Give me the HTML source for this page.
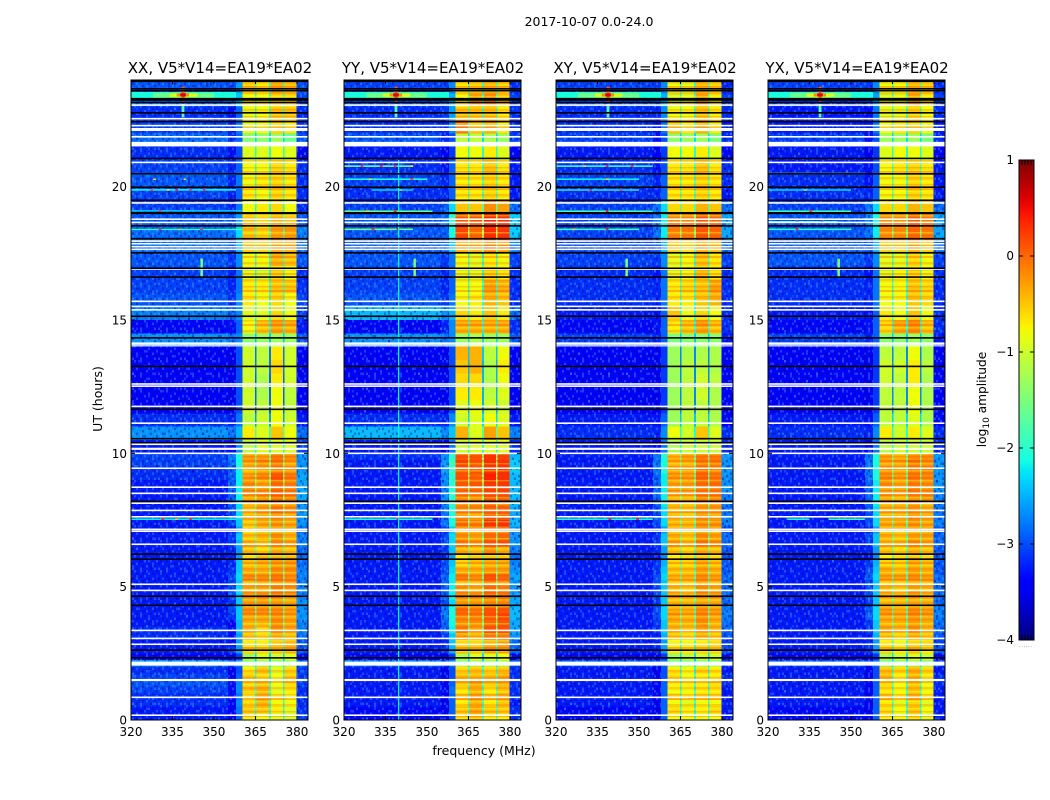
<!DOCTYPE html>
<html lang="en">
<head>
<meta charset="utf-8">
<title>2017-10-07 dynamic spectra</title>
<style>
html,body{margin:0;padding:0;background:#fff;width:1050px;height:800px;overflow:hidden}
svg{display:block}
text{font-family:"DejaVu Sans","Liberation Sans",sans-serif;fill:#000}
</style>
</head>
<body>
<svg id="figure" xmlns="http://www.w3.org/2000/svg" width="1050" height="800" viewBox="0 0 1050 800">
  <defs>
    <pattern id="noise" width="26" height="15" patternUnits="userSpaceOnUse">
      <g fill="#00008c" fill-opacity=".38">
        <rect x="0" y="0" width="2" height="2.5"/><rect x="6" y="2.5" width="2" height="2.5"/><rect x="14" y="0" width="2" height="2.5"/>
        <rect x="22" y="2.5" width="2" height="2.5"/><rect x="2" y="7.5" width="2" height="2.5"/><rect x="10" y="5" width="2" height="2.5"/>
        <rect x="18" y="7.5" width="2" height="2.5"/><rect x="24" y="10" width="2" height="2.5"/><rect x="6" y="12.5" width="2" height="2.5"/>
        <rect x="12" y="10" width="2" height="2.5"/><rect x="20" y="12.5" width="2" height="2.5"/>
      </g>
      <g fill="#4aa8ff" fill-opacity=".38">
        <rect x="4" y="0" width="2" height="2.5"/><rect x="10" y="0" width="2" height="2.5"/><rect x="18" y="2.5" width="2" height="2.5"/>
        <rect x="0" y="5" width="2" height="2.5"/><rect x="14" y="5" width="2" height="2.5"/><rect x="22" y="7.5" width="2" height="2.5"/>
        <rect x="6" y="7.5" width="2" height="2.5"/><rect x="2" y="12.5" width="2" height="2.5"/><rect x="16" y="10" width="2" height="2.5"/>
        <rect x="10" y="12.5" width="2" height="2.5"/><rect x="24" y="12.5" width="2" height="2.5"/>
      </g>
    </pattern>
    <pattern id="noise-wide" width="38" height="27.5" patternUnits="userSpaceOnUse">
      <g fill="#000090" fill-opacity=".3">
        <rect x="2" y="2.5" width="2" height="2.5"/><rect x="16" y="0" width="2" height="2.5"/><rect x="30" y="5" width="2" height="2.5"/>
        <rect x="8" y="10" width="2" height="2.5"/><rect x="24" y="12.5" width="2" height="2.5"/><rect x="36" y="15" width="2" height="2.5"/>
        <rect x="12" y="20" width="2" height="2.5"/><rect x="4" y="25" width="2" height="2.5"/><rect x="28" y="22.5" width="2" height="2.5"/>
      </g>
      <g fill="#3fa0ff" fill-opacity=".32">
        <rect x="10" y="5" width="2" height="2.5"/><rect x="24" y="2.5" width="2" height="2.5"/><rect x="34" y="10" width="2" height="2.5"/>
        <rect x="0" y="15" width="2" height="2.5"/><rect x="18" y="15" width="2" height="2.5"/><rect x="32" y="20" width="2" height="2.5"/>
        <rect x="8" y="22.5" width="2" height="2.5"/><rect x="22" y="25" width="2" height="2.5"/>
      </g>
    </pattern>
    <pattern id="band-stripes" width="12" height="17" patternUnits="userSpaceOnUse">
      <rect x="0" y="1" width="12" height="2" fill="#ff2a00" fill-opacity=".3"/>
      <rect x="0" y="4" width="12" height="1.5" fill="#ffff30" fill-opacity=".35"/>
      <rect x="0" y="7" width="12" height="2.5" fill="#ff5000" fill-opacity=".25"/>
      <rect x="0" y="11" width="12" height="1.5" fill="#ffff30" fill-opacity=".4"/>
      <rect x="0" y="14" width="12" height="1.5" fill="#ff2a00" fill-opacity=".22"/>
    </pattern>
    <linearGradient id="jet-gradient" x1="0" y1="1" x2="0" y2="0"></linearGradient>
  </defs>
  <text x="589" y="26" text-anchor="middle" font-size="12.5">2017-10-07 0.0-24.0</text>
  <text x="220" y="73" text-anchor="middle" font-size="15">XX, V5*V14=EA19*EA02</text>
  <text x="433" y="73" text-anchor="middle" font-size="15">YY, V5*V14=EA19*EA02</text>
  <text x="645" y="73" text-anchor="middle" font-size="15">XY, V5*V14=EA19*EA02</text>
  <text x="857" y="73" text-anchor="middle" font-size="15">YX, V5*V14=EA19*EA02</text>
  <text x="484" y="755" text-anchor="middle" font-size="12.5">frequency (MHz)</text>
  <text transform="translate(102 399) rotate(-90)" text-anchor="middle" font-size="12.5">UT (hours)</text>
  <text transform="translate(986 399.5) rotate(-90)" text-anchor="middle" font-size="12.2">log<tspan font-size="9" dy="3">10</tspan><tspan dy="-3"> amplitude</tspan></text>
  <text x="1026" y="647" text-anchor="middle" font-size="4" fill="#555" letter-spacing="1">......</text>
  <g id="panels"></g>
  <g id="colorbar"></g>
</svg>
<script>
// ---- chart data -------------------------------------------------------
const panelNames = ['xx', 'yy', 'xy', 'yx'];
const xTickLabels = [320, 335, 350, 365, 380];
const yTickLabels = [0, 5, 10, 15, 20];
const colorbarTicks = [1, 0, -1, -2, -3, -4];

// lower edge of each time row (hours), closing edge last
const rowHours = [0,.25,.5,.75,1,1.25,1.5,1.75,2,2.25,2.5,2.75,3,3.25,3.5,3.75,4,4.25,4.5,4.75,5,5.25,5.5,5.75,6,6.25,6.5,6.75,7,7.25,7.5,7.75,8,8.25,8.5,8.75,9,9.25,9.5,9.75,10,10.5,11,11.5,12,12.5,13,13.5,14,14.5,15,15.5,16,16.5,17,17.5,18,18.5,19,19.5,20,20.5,21,21.5,22,22.5,23,23.5,24];

// frequency channel groups (MHz)
const freqEdges = [320,355,358,360.3,364.8,365.4,369.9,370.6,375,375.5,379.8,384];
// which entry of a row feeds each channel group
// row = [background, ramp1, ramp2, band1, band2, band3, band4, gap, high]
const channelSource = [0,1,2,3,7,4,7,5,7,6,8];
// level correction per row entry, matching the eye-read rows to the picture
const entryOffset = [-.25,-.5,-.4,0,0,0,0,-.3,-.35];

// log10 amplitude per time row
const xxRows = [
[-3,-2.9,-2.5,-.7,-.8,-.9,-1,-1.7,-2.7],
[-3,-2.9,-2.4,-.5,-.5,-.7,-.9,-1.8,-2.8],
[-2.9,-2.9,-2.3,-.6,-.4,-.8,-.8,-1.7,-2.8],
[-2.9,-2.8,-2.4,-.7,-.4,-.7,-.8,-1.7,-2.8],
[-2.8,-2.8,-2.3,-.5,-.4,-.9,-.7,-1.6,-2.8],
[-2.7,-2.8,-2.3,-.6,-.5,-.8,-.6,-1.7,-2.7],
[-2.8,-2.9,-2.5,-.5,-.6,-.8,-.5,-1.8,-2.7],
[-2.9,-2.9,-2.6,-.7,-.5,-.9,-.6,-1.8,-2.7],
[-2.4,-2.4,-2.2,-1.4,-1.3,-1.3,-1.3,-2,-2.5],
[-3.1,-3,-2.7,-1.3,-.9,-1,-.9,-2,-3],
[-3,-2.6,-2.2,-.6,-.6,-.5,-.4,-1.6,-2.6],
[-3,-2.8,-2.2,-.7,-.7,-.5,-.4,-1.6,-2.6],
[-2.9,-2.8,-2.2,-.5,-.6,-.4,-.5,-1.5,-2.5],
[-2.9,-2.8,-2.1,-.4,-.6,-.2,-.3,-1.4,-2.4],
[-3,-2.9,-2.1,-.4,-.4,-.2,-.3,-1.3,-2.4],
[-3,-2.6,-2,-.3,-.3,-.2,-.3,-1.3,-2.3],
[-3,-2.5,-2,-.2,-.2,-.2,-.3,-1.3,-2.3],
[-3,-2.6,-2,-.3,-.3,-.3,-.4,-1.4,-2.3],
[-3,-2.5,-2,-.3,-.2,-.2,-.3,-1.3,-2.4],
[-3,-2.5,-1.9,-.3,-.3,-.1,-.2,-1.3,-2.4],
[-3,-2.5,-2,-.4,-.3,-.2,-.2,-1.4,-2.4],
[-3,-2.5,-1.9,-.2,-.2,-.1,-.2,-1.2,-2.4],
[-3,-2.6,-2,-.4,-.4,-.2,-.2,-1.3,-2.4],
[-3,-2.7,-2,-.5,-.4,-.3,-.3,-1.4,-2.5],
[-3,-2.7,-2.2,-.6,-.4,-.4,-.4,-1.4,-2.5],
[-3,-2.7,-2.2,-.5,-.6,-.4,-.5,-1.5,-2.5],
[-3,-2.6,-2.1,-.4,-.5,-.2,-.3,-1.4,-2.4],
[-3,-2.6,-2,-.5,-.4,-.2,-.4,-1.3,-2.4],
[-3,-2.7,-2.2,-.6,-.5,-.4,-.4,-1.5,-2.5],
[-3,-2.5,-2,-.5,-.3,-.2,-.3,-1.3,-2.3],
[-3,-2.5,-1.9,-.4,-.3,-.2,-.3,-1.3,-2.3],
[-3,-2.5,-1.9,-.5,-.3,-.1,-.2,-1.2,-2.3],
[-3,-2.4,-1.9,-.3,-.2,-.1,-.2,-1.2,-2.3],
[-3,-2.4,-1.8,-.3,-.2,0,-.1,-1.1,-2.2],
[-3,-2.4,-1.8,-.2,-.2,0,-.1,-1.1,-2.2],
[-3,-2.4,-1.8,-.2,-.3,0,-.1,-1.1,-2.2],
[-2.9,-2.4,-1.8,-.3,-.2,.1,-.1,-1.1,-2.2],
[-2.9,-2.4,-1.8,-.4,-.3,-.1,-.2,-1.2,-2.3],
[-2.8,-2.3,-1.7,-.3,-.2,-.1,-.3,-1.2,-2.3],
[-2.8,-2.3,-1.7,-.3,-.3,-.1,-.2,-1.2,-2.3],
[-3,-2.8,-2.3,-1.1,-.9,-.9,-.9,-1.8,-2.7],
[-2.4,-2.3,-2.1,-.7,-.9,-.5,-.8,-1.5,-2.5],
[-2.9,-2.7,-2.4,-1.1,-1,-.8,-1,-2.3,-2.9],
[-3.2,-3,-2.6,-1,-1.1,-.8,-1.1,-2.6,-3.1],
[-3.2,-3,-2.6,-1,-1.2,-.8,-1.1,-2.6,-3.1],
[-3.2,-3,-2.6,-1,-1.2,-.7,-1,-2.6,-3.1],
[-3.2,-3,-2.6,-1,-1.1,-.6,-1,-2.5,-3.1],
[-3.2,-3,-2.6,-1,-1.1,-.7,-1,-2.5,-3.1],
[-2.4,-2.3,-2.3,-1.4,-1.3,-1.3,-1.3,-2.1,-2.6],
[-3.1,-2.8,-2.5,-.8,-.5,-.3,-.4,-1.8,-2.9],
[-2.5,-2.4,-2.3,-.9,-.9,-.6,-.8,-1.8,-2.7],
[-2.7,-2.6,-2.3,-.7,-.8,-.6,-.8,-1.7,-2.7],
[-2.8,-2.7,-2.4,-.7,-.7,-.5,-.5,-1.7,-2.8],
[-2.8,-2.7,-2.4,-.9,-1,-.6,-.8,-1.7,-2.8],
[-2.7,-2.6,-2.3,-.8,-.8,-.4,-.5,-1.7,-2.6],
[-2.6,-2.5,-2.1,-.5,-.5,-.3,-.3,-1.5,-2.5],
[-2.6,-2.3,-1.9,-.5,-.6,-.3,-.3,-1.5,-2.4],
[-2.7,-2.5,-2.2,-.5,-.6,-.4,-.5,-1.5,-2.6],
[-2.8,-2.7,-2.4,-.8,-.7,-.6,-.8,-1.7,-2.8],
[-2.8,-2.7,-2.5,-.7,-.8,-.6,-.7,-1.6,-2.8],
[-2.7,-2.7,-2.4,-.8,-.7,-.6,-.7,-1.6,-2.8],
[-2.8,-2.7,-2.5,-.8,-.8,-.6,-.7,-1.6,-2.8],
[-2.9,-2.8,-2.6,-.9,-.9,-.8,-.9,-1.7,-3],
[-2.6,-2.6,-2.5,-1.4,-1.4,-1.3,-1.6,-2,-2.6],
[-2.8,-2.7,-2.4,-.9,-.8,-.6,-.7,-1.7,-2.8],
[-2.9,-2.8,-2.5,-.9,-.8,-.5,-.5,-1.6,-2.8],
[-2.6,-2.3,-2,-.8,-.8,-.6,-.6,-1.6,-2.7],
[-2.7,-2.5,-2.2,-.6,-.7,-.4,-.5,-1.6,-2.6]
];
const yyRows = [
[-3.1,-3,-2.6,-.6,-.5,-.7,-.7,-1.7,-2.8],
[-3.1,-3,-2.5,-.5,-.3,-.5,-.5,-1.8,-2.8],
[-3,-3,-2.5,-.7,-.4,-.7,-.5,-1.7,-2.9],
[-3,-3,-2.5,-.5,-.3,-.5,-.4,-1.7,-2.8],
[-3,-2.9,-2.4,-.7,-.4,-.7,-.5,-1.6,-2.8],
[-3,-2.9,-2.5,-.5,-.3,-.5,-.4,-1.7,-2.8],
[-3,-3,-2.6,-.4,-.4,-.4,-.3,-1.7,-2.8],
[-3,-3,-2.6,-.6,-.5,-.6,-.5,-1.7,-2.8],
[-2.5,-2.5,-2.3,-1.4,-1.3,-1.3,-1.2,-2,-2.6],
[-3.1,-3,-2.7,-1.2,-.9,-.9,-.8,-2,-3],
[-3,-2.6,-2.1,-.5,-.5,-.3,-.3,-1.5,-2.5],
[-3,-2.7,-2,-.6,-.6,-.4,-.3,-1.4,-2.5],
[-3,-2.6,-2,-.3,-.4,-.1,-.1,-1.3,-2.3],
[-3,-2.4,-1.8,-.1,-.3,.1,.1,-1.2,-2.2],
[-3,-2.4,-1.7,-.2,-.2,0,.1,-1.2,-2.2],
[-3,-2.3,-1.7,-.1,-.1,.1,.2,-1.1,-2.1],
[-3,-2.3,-1.7,0,-.1,.1,.1,-1.1,-2.1],
[-3,-2.5,-1.9,-.3,-.3,-.2,-.2,-1.2,-2.2],
[-3,-2.4,-1.8,-.2,-.2,-.1,-.1,-1.2,-2.2],
[-3,-2.4,-1.8,-.2,-.3,0,-.1,-1.2,-2.3],
[-3,-2.4,-1.8,-.4,-.4,-.1,-.2,-1.3,-2.3],
[-3,-2.4,-1.8,-.1,-.2,.1,0,-1.2,-2.2],
[-3,-2.5,-1.9,-.4,-.4,-.3,-.3,-1.3,-2.3],
[-3,-2.5,-2,-.6,-.5,-.4,-.4,-1.4,-2.4],
[-3,-2.7,-2.2,-.7,-.5,-.5,-.5,-1.5,-2.5],
[-3,-2.6,-2,-.4,-.5,-.2,-.4,-1.4,-2.4],
[-3,-2.5,-1.9,-.1,-.2,.1,.1,-1.2,-2.3],
[-3,-2.5,-1.9,-.2,-.3,0,0,-1.2,-2.3],
[-3,-2.6,-2,-.3,-.3,-.1,-.1,-1.3,-2.3],
[-3,-2.3,-1.7,0,-.1,.3,.3,-1.1,-2.1],
[-3,-2.3,-1.7,-.2,-.3,.1,.1,-1.2,-2.2],
[-3,-2.3,-1.7,-.2,-.2,0,0,-1.2,-2.2],
[-3,-2.2,-1.6,0,0,.2,.1,-1.1,-2.1],
[-3,-2.2,-1.6,-.1,-.2,.1,.1,-1.1,-2.1],
[-3,-2.2,-1.6,0,0,.2,.2,-1.1,-2.1],
[-3,-2.2,-1.6,.1,.1,.3,.3,-1,-2.1],
[-3,-2.2,-1.6,.1,0,.4,.3,-1,-2.1],
[-3,-2.1,-1.5,.1,.1,.3,.3,-1,-2],
[-3,-2.1,-1.5,.2,.1,.3,.3,-1,-2],
[-2.9,-2.2,-1.6,.1,.1,.3,.2,-1,-2.1],
[-3,-2.9,-2.4,-1,-.9,-.9,-.9,-1.7,-2.8],
[-2.2,-2.2,-2,-.4,-.9,-.3,-.5,-1.4,-2.4],
[-2.9,-2.7,-2.3,-1,-.9,-.8,-.9,-2,-2.9],
[-3.2,-3,-2.6,-.9,-.8,-1,-1,-2.2,-3.1],
[-3.2,-3,-2.6,-.7,-.7,-1.1,-.9,-2.2,-3.1],
[-3.2,-3,-2.6,-.6,-.6,-1.2,-.8,-2.2,-3.1],
[-3.2,-3,-2.6,-.5,-.4,-1.2,-.7,-2.2,-3.1],
[-3.2,-3,-2.6,-.4,-.4,-1.1,-.8,-2.1,-3.1],
[-2.4,-2.3,-2.3,-1.3,-1.2,-1.3,-1.3,-2,-2.6],
[-3.1,-2.7,-2.3,-.4,-.4,-.4,-.4,-1.7,-2.8],
[-2.2,-2.2,-2.1,-.6,-.7,-.5,-.7,-1.7,-2.5],
[-2.7,-2.6,-2.4,-.8,-.7,-.4,-.5,-1.7,-2.8],
[-2.8,-2.7,-2.5,-.8,-.8,-.3,-.4,-1.7,-2.8],
[-2.8,-2.7,-2.5,-.9,-.9,-.6,-.7,-1.7,-2.8],
[-2.7,-2.6,-2.4,-.8,-.9,-.7,-.8,-1.7,-2.7],
[-2.7,-2.4,-2,-.3,-.3,-.1,-.2,-1.3,-2.4],
[-2.7,-2.4,-1.7,.2,0,.35,.3,-.9,-2],
[-2.7,-2.3,-1.6,.1,.1,.35,.3,-.9,-2],
[-2.8,-2.4,-1.9,-.5,-.5,-.2,-.3,-1.4,-2.5],
[-2.9,-2.7,-2.5,-.7,-.7,-.6,-.7,-1.6,-2.9],
[-2.8,-2.7,-2.5,-.7,-.7,-.6,-.7,-1.6,-2.9],
[-2.9,-2.8,-2.5,-.7,-.7,-.5,-.7,-1.6,-2.9],
[-3,-2.9,-2.7,-.8,-.8,-.7,-.9,-1.7,-3],
[-2.7,-2.7,-2.6,-1.1,-1.1,-1.2,-1.3,-2,-2.7],
[-2.9,-2.7,-2.3,-.1,-.5,-.4,-.7,-1.6,-2.8],
[-2.9,-2.6,-2.2,-.5,-.5,-.5,-.7,-1.6,-2.8],
[-2.7,-2.4,-2.1,-.8,-.3,-.2,-.5,-1.6,-2.7],
[-2.8,-2.6,-2.3,-.7,-.6,-.5,-.6,-1.6,-2.8]
];
const xyRows = [
[-3.1,-3,-2.5,-.8,-.8,-.8,-.8,-1.7,-2.9],
[-3.1,-3,-2.5,-.6,-.7,-.7,-.6,-1.8,-2.9],
[-3,-3,-2.5,-.8,-.9,-.8,-.8,-1.7,-2.9],
[-3,-3,-2.5,-.6,-.7,-.6,-.6,-1.7,-2.9],
[-3,-2.9,-2.5,-.8,-.8,-.7,-.7,-1.7,-2.9],
[-3,-2.9,-2.5,-.7,-.7,-.7,-.6,-1.7,-2.8],
[-3,-3,-2.6,-.6,-.8,-.7,-.7,-1.7,-2.8],
[-3,-3,-2.6,-.7,-.8,-.6,-.7,-1.8,-2.9],
[-2.7,-2.6,-2.4,-1.5,-1.4,-1.4,-1.4,-2,-2.7],
[-3.1,-3,-2.7,-1.3,-1.1,-1,-1,-2,-3],
[-3,-2.7,-2.2,-.7,-.7,-.6,-.6,-1.6,-2.6],
[-3,-2.7,-2.2,-.8,-.8,-.7,-.6,-1.6,-2.7],
[-3,-2.7,-2.1,-.5,-.6,-.4,-.5,-1.5,-2.6],
[-3,-2.6,-2,-.4,-.5,-.3,-.4,-1.5,-2.5],
[-3,-2.6,-2,-.4,-.4,-.2,-.4,-1.4,-2.5],
[-3,-2.5,-1.9,-.3,-.4,-.2,-.3,-1.4,-2.4],
[-3,-2.5,-1.9,-.4,-.4,-.2,-.3,-1.4,-2.4],
[-3,-2.6,-2,-.5,-.5,-.4,-.4,-1.5,-2.5],
[-3,-2.5,-2,-.4,-.4,-.3,-.3,-1.4,-2.5],
[-3,-2.5,-2,-.4,-.5,-.2,-.3,-1.4,-2.5],
[-3,-2.5,-2,-.5,-.5,-.3,-.4,-1.5,-2.5],
[-3,-2.5,-1.9,-.4,-.4,-.2,-.3,-1.4,-2.5],
[-3,-2.6,-2,-.5,-.5,-.3,-.4,-1.5,-2.6],
[-3,-2.6,-2.1,-.6,-.6,-.4,-.5,-1.5,-2.6],
[-3,-2.8,-2.3,-.7,-.6,-.5,-.6,-1.6,-2.6],
[-3,-2.7,-2.2,-.5,-.6,-.4,-.5,-1.5,-2.6],
[-3,-2.6,-2,-.3,-.4,-.1,-.2,-1.4,-2.5],
[-3,-2.6,-2,-.4,-.5,-.2,-.3,-1.4,-2.5],
[-3,-2.7,-2.2,-.5,-.5,-.3,-.4,-1.5,-2.6],
[-3,-2.5,-1.9,-.4,-.4,-.2,-.2,-1.4,-2.4],
[-3,-2.5,-1.9,-.4,-.5,-.2,-.3,-1.4,-2.4],
[-3,-2.5,-1.9,-.5,-.5,-.3,-.3,-1.4,-2.5],
[-3,-2.4,-1.8,-.3,-.4,-.1,-.1,-1.3,-2.4],
[-3,-2.4,-1.8,-.4,-.4,-.1,-.1,-1.3,-2.4],
[-3,-2.4,-1.8,-.3,-.3,-.1,-.1,-1.3,-2.3],
[-3,-2.4,-1.8,-.3,-.3,0,0,-1.3,-2.3],
[-3,-2.4,-1.8,-.3,-.3,0,-.1,-1.3,-2.3],
[-3,-2.3,-1.7,-.3,-.3,0,-.1,-1.2,-2.3],
[-3,-2.3,-1.7,-.4,-.4,-.1,-.1,-1.2,-2.3],
[-3,-2.3,-1.7,-.4,-.3,-.1,-.1,-1.2,-2.3],
[-3,-2.9,-2.4,-1.2,-1,-1,-1,-1.8,-2.8],
[-2.9,-2.7,-2.3,-.8,-1,-.5,-.9,-1.7,-2.8],
[-3,-2.8,-2.5,-1.3,-1.1,-1.1,-1.2,-2.1,-3],
[-3.2,-3,-2.7,-1.3,-1.1,-1.1,-1.2,-2.4,-3.1],
[-3.2,-3,-2.7,-1.3,-1.1,-1,-1.2,-2.4,-3.1],
[-3.2,-3,-2.7,-1.3,-1.1,-1,-1.1,-2.4,-3.1],
[-3.2,-3,-2.7,-1.3,-1.1,-1.1,-1.2,-2.4,-3.1],
[-3.2,-3,-2.7,-1.3,-1.2,-1.2,-1.2,-2.4,-3.1],
[-2.8,-2.7,-2.5,-1.5,-1.4,-1.4,-1.4,-2.1,-2.9],
[-3.1,-2.8,-2.5,-.7,-.5,-.3,-.5,-1.8,-2.8],
[-3,-2.8,-2.5,-.5,-.8,-.6,-.8,-1.8,-2.8],
[-2.9,-2.7,-2.4,-.7,-.7,-.5,-.4,-1.7,-2.8],
[-2.9,-2.7,-2.4,-.7,-.6,-.5,-.3,-1.7,-2.8],
[-2.9,-2.8,-2.4,-.9,-.8,-.5,-.7,-1.7,-2.8],
[-2.8,-2.6,-2.3,-.9,-.8,-.5,-.7,-1.7,-2.7],
[-2.8,-2.5,-2.1,-.5,-.6,-.3,-.4,-1.5,-2.5],
[-2.8,-2.3,-1.8,-.15,-.1,.1,0,-1.1,-2.2],
[-2.8,-2.3,-1.8,-.15,-.15,.1,0,-1.1,-2.2],
[-2.8,-2.3,-1.9,-.6,-.6,-.4,-.5,-1.5,-2.5],
[-2.9,-2.7,-2.5,-.7,-.7,-.6,-.7,-1.6,-2.9],
[-2.8,-2.7,-2.5,-.7,-.7,-.6,-.7,-1.6,-2.8],
[-2.9,-2.8,-2.6,-.7,-.7,-.5,-.7,-1.6,-2.8],
[-3,-2.9,-2.7,-.8,-.8,-.7,-.9,-1.7,-3],
[-2.8,-2.8,-2.6,-1.4,-1.3,-1.3,-1.5,-2,-2.8],
[-2.9,-2.8,-2.4,-.5,-.7,-.4,-.7,-1.6,-2.9],
[-2.9,-2.7,-2.3,-.8,-.8,-.5,-.7,-1.6,-2.8],
[-2.7,-2.4,-2.1,-1,-.9,-.3,-.7,-1.6,-2.7],
[-2.8,-2.6,-2.3,-.8,-.9,-.5,-.6,-1.6,-2.8]
];
const yxRows = [
[-3.1,-3,-2.5,-.7,-.8,-.6,-.9,-1.7,-2.9],
[-3.1,-3,-2.5,-.6,-.8,-.5,-.8,-1.8,-2.9],
[-3,-3,-2.5,-.7,-.9,-.6,-.9,-1.7,-2.9],
[-3,-3,-2.5,-.5,-.7,-.4,-.7,-1.7,-2.9],
[-3,-2.9,-2.5,-.7,-.8,-.5,-.8,-1.7,-2.9],
[-3,-2.9,-2.5,-.6,-.8,-.5,-.8,-1.7,-2.8],
[-3,-3,-2.6,-.4,-.7,-.4,-.7,-1.7,-2.8],
[-3,-3,-2.6,-.5,-.6,-.4,-.6,-1.8,-2.9],
[-2.7,-2.6,-2.4,-1.5,-1.4,-1.3,-1.4,-2,-2.7],
[-3.1,-3,-2.7,-1.2,-1,-.9,-1,-2,-3],
[-3,-2.6,-2.2,-.6,-.7,-.5,-.7,-1.6,-2.6],
[-3,-2.7,-2.2,-.7,-.8,-.6,-.6,-1.6,-2.7],
[-3,-2.7,-2.1,-.5,-.6,-.4,-.5,-1.5,-2.6],
[-3,-2.6,-2,-.3,-.4,-.2,-.4,-1.5,-2.5],
[-3,-2.6,-2,-.4,-.4,-.3,-.4,-1.4,-2.5],
[-3,-2.4,-1.9,-.3,-.3,-.2,-.3,-1.4,-2.4],
[-3,-2.4,-1.9,-.3,-.4,-.2,-.3,-1.4,-2.4],
[-3,-2.6,-2,-.5,-.5,-.4,-.4,-1.5,-2.5],
[-3,-2.5,-2,-.4,-.4,-.3,-.4,-1.4,-2.5],
[-3,-2.5,-2,-.4,-.5,-.3,-.4,-1.4,-2.5],
[-3,-2.5,-2,-.5,-.5,-.4,-.4,-1.5,-2.5],
[-3,-2.4,-1.9,-.3,-.3,-.2,-.3,-1.4,-2.5],
[-3,-2.5,-2,-.4,-.5,-.3,-.4,-1.5,-2.6],
[-3,-2.6,-2.1,-.6,-.6,-.4,-.5,-1.5,-2.6],
[-3,-2.8,-2.3,-.7,-.6,-.5,-.6,-1.6,-2.6],
[-3,-2.7,-2.2,-.5,-.6,-.4,-.5,-1.5,-2.6],
[-3,-2.6,-2,-.4,-.4,-.2,-.3,-1.4,-2.5],
[-3,-2.5,-2,-.4,-.5,-.3,-.3,-1.4,-2.5],
[-3,-2.7,-2.2,-.5,-.5,-.4,-.4,-1.5,-2.6],
[-3,-2.5,-1.9,-.3,-.3,-.2,-.3,-1.4,-2.4],
[-3,-2.5,-1.9,-.4,-.4,-.2,-.3,-1.4,-2.4],
[-3,-2.5,-1.9,-.4,-.4,-.3,-.4,-1.4,-2.5],
[-3,-2.4,-1.8,-.3,-.3,-.1,-.3,-1.3,-2.4],
[-3,-2.4,-1.8,-.3,-.4,-.2,-.2,-1.3,-2.4],
[-3,-2.4,-1.8,-.3,-.3,-.1,-.2,-1.3,-2.3],
[-3,-2.4,-1.8,-.2,-.3,-.1,-.2,-1.3,-2.3],
[-3,-2.3,-1.7,-.2,-.3,-.1,-.2,-1.3,-2.3],
[-3,-2.3,-1.7,-.2,-.3,-.1,-.1,-1.2,-2.3],
[-3,-2.3,-1.7,-.3,-.3,-.1,-.2,-1.2,-2.3],
[-3,-2.3,-1.7,-.3,-.4,-.2,-.2,-1.2,-2.3],
[-3,-2.9,-2.4,-1.1,-1,-1,-1,-1.8,-2.8],
[-2.9,-2.7,-2.3,-.7,-1,-.7,-.9,-1.7,-2.8],
[-3,-2.8,-2.5,-1.1,-1.1,-.9,-1.2,-2,-3],
[-3.2,-3,-2.7,-1.1,-1.1,-.8,-1.2,-2.4,-3.1],
[-3.2,-3,-2.7,-1.1,-1.1,-.8,-1.2,-2.4,-3.1],
[-3.2,-3,-2.7,-1,-1.1,-.7,-1.2,-2.4,-3.1],
[-3.2,-3,-2.7,-1,-1,-.7,-1.1,-2.4,-3.1],
[-3.2,-3,-2.7,-1.1,-1.1,-.8,-1.2,-2.4,-3.1],
[-2.8,-2.7,-2.5,-1.4,-1.4,-1.3,-1.4,-2.1,-2.9],
[-3.1,-2.8,-2.5,-.6,-.35,-.2,-.5,-1.8,-2.8],
[-3,-2.8,-2.5,-.7,-.8,-.5,-.8,-1.8,-2.8],
[-2.9,-2.7,-2.4,-.8,-.8,-.5,-.6,-1.7,-2.8],
[-2.9,-2.7,-2.4,-.8,-.8,-.5,-.6,-1.7,-2.8],
[-2.9,-2.8,-2.4,-.9,-.8,-.6,-.8,-1.7,-2.8],
[-2.7,-2.6,-2.3,-.9,-.9,-.6,-.8,-1.7,-2.7],
[-2.7,-2.5,-2.1,-.5,-.5,-.3,-.5,-1.5,-2.5],
[-2.7,-2.3,-1.8,-.2,-.2,0,-.1,-1.2,-2.2],
[-2.7,-2.2,-1.7,-.2,-.2,.05,-.1,-1.2,-2.2],
[-2.8,-2.3,-1.9,-.6,-.6,-.4,-.5,-1.5,-2.5],
[-2.9,-2.7,-2.5,-.8,-.8,-.6,-.7,-1.6,-2.9],
[-2.9,-2.8,-2.5,-.8,-.8,-.6,-.7,-1.6,-2.9],
[-3,-2.8,-2.6,-.8,-.7,-.6,-.7,-1.6,-2.9],
[-3,-2.9,-2.7,-.9,-.8,-.8,-.9,-1.7,-3],
[-2.8,-2.8,-2.6,-1.3,-1.3,-1.3,-1.5,-2,-2.8],
[-3,-2.8,-2.4,-.8,-.7,-.6,-.8,-1.6,-2.9],
[-3,-2.8,-2.4,-.9,-.9,-.6,-.8,-1.6,-2.8],
[-2.8,-2.5,-2.2,-1,-.9,-.3,-.7,-1.6,-2.7],
[-2.8,-2.6,-2.3,-.8,-.8,-.5,-.6,-1.6,-2.8]
];
const panelRows = [xxRows, yyRows, xyRows, yxRows];

// interference features: [hourStart, hourEnd, mhzStart, mhzEnd, log10 amplitude]
const sharedRfi = [
[23.3,23.55,320,358,-2.1],[23.33,23.52,328,350,-1.6],[23.36,23.5,334,344,-.9],[23.38,23.5,336.5,341,-.2],
[23.15,23.75,338.3,339.4,.1],[23.38,23.5,337.8,339.8,.6],[22.6,23.1,338.3,339.3,-1.7],
[16.6,17.3,345.1,346,-1.5]
];
const xxRfi = [
[20.44,20.5,320,358,-2.4],[20.44,20.5,336,337,.3],[20.44,20.5,349,350,.3],[20.25,20.3,328,329,-.6],[20.25,20.3,339,340,-.6],
[19.85,19.91,320,358,-2.1],[19.85,19.91,327,328,.2],[19.85,19.91,336,337,.4],[19.85,19.91,341,342,.2],[19.85,19.91,346,347,.3],[19.85,19.91,333,334,-.7],
[19.07,19.12,320,360,-2.3],[19.07,19.12,330,331,.2],[18.37,18.42,320,360,-1.9],[18.37,18.42,330,331,.4],[18.37,18.42,345,346,.3],[18.37,18.42,337,338,-.6],
[7.5,7.56,320,358,-2.2],[7.5,7.56,331,332,.3],[7.5,7.56,341,342,.2],[7.5,7.56,336,337,-.6]
];
const yyRfi = [
[20.74,20.8,320,345,-1.6],[20.74,20.8,326,327,.3],[20.74,20.8,333,334,.4],[20.74,20.8,338,339,.4],[20.74,20.8,344,345,-.6],
[20.25,20.31,320,350,-2.1],[20.25,20.31,344,345,.2],[20.25,20.31,329,330,-.7],[19.85,19.9,330,345,-2.2],[19.85,19.9,340,341,-.6],
[19.05,19.11,320,352,-1.7],[19.05,19.11,338,339,.4],[19.05,19.11,328,329,-.6],[18.64,18.69,320,345,-2],[18.64,18.69,331,332,-.5],
[18.37,18.43,320,345,-1.6],[18.37,18.43,330,331,.3],[18.37,18.43,339,340,.4],
[7.5,7.56,320,352,-2.1],[7.5,7.56,339,340,.4],
[0,21,339.5,340,-2.2]
];
const xyRfi = [
[20.74,20.8,320,355,-1.9],[20.74,20.8,338,339,.4],[20.74,20.8,347,348,.3],[20.74,20.8,330,331,-.6],
[20.25,20.31,320,350,-2.2],[20.47,20.51,327,328,.3],[20.25,20.31,338,339,-.6],
[19.85,19.9,320,350,-1.9],[19.85,19.9,332,333,.3],[19.85,19.9,343,344,.2],
[19.05,19.11,320,355,-1.9],[19.05,19.11,338,339,.4],[18.66,18.7,330,345,-2.1],
[18.37,18.43,320,350,-1.9],[18.37,18.43,338,339,.4],[18.37,18.43,326,327,-.6],
[7.5,7.56,320,355,-2.1],[7.5,7.56,339,340,.4],[7.5,7.56,349,350,.3]
];
const yxRfi = [
[20.45,20.52,320,355,-1.8],[20.45,20.52,327,328,.3],[20.45,20.52,335,336,.3],[20.45,20.52,348,349,.3],
[19.85,19.9,320,350,-2.2],[19.85,19.9,333,334,-.8],[19.05,19.11,320,350,-1.9],[19.05,19.11,335,336,.3],
[18.66,18.71,320,345,-1.8],[18.66,18.71,330,331,.4],[18.66,18.71,339,340,.4],
[18.37,18.43,320,350,-2],[18.37,18.43,330,331,.3],
[7.5,7.56,327,335,-2.1],[7.5,7.56,342,355,-1.9]
];
const panelRfi = [xxRfi, yyRfi, xyRfi, yxRfi];

// flagged (blank) and dropped (black) intervals, hours
const whiteFlagHours = [
[23.03,23.09],[22.52,22.58],[22.26,22.32],[22.09,22.2],[21.84,21.9],[21.51,21.68],[20.88,20.94],[19.36,19.42],
[18.75,18.81],[18.63,18.69],[17.93,17.99],[17.83,17.89],[17.72,17.78],[17.62,17.68],[16.88,16.94],[15.67,15.73],
[15.48,15.54],[15.35,15.41],[14.07,14.16],[14.01,14.05],[12.57,12.63],[12.49,12.55],[11.73,11.79],[11.1,11.16],
[10.31,10.37],[10.13,10.21],[9.97,10.03],[9.41,9.47],[8.7,8.76],[8.47,8.53],[8.1,8.16],[7.83,7.89],[7.59,7.65],
[7.12,7.18],[7.05,7.11],[6.56,6.62],[5.06,5.12],[4.83,4.89],[3.33,3.39],[3.03,3.09],[2.81,2.87],[2.04,2.19],
[1.46,1.54],[.82,.88],[.15,.21]
];
const blackFlagHours = [
[23.92,23.98],[23.64,23.7],[23.57,23.63],[23.22,23.33],[23.13,23.19],[22.74,22.8],[22.41,22.47],[21.03,21.09],
[20.45,20.51],[19.95,20.01],[19.46,19.52],[18.97,19.05],[18.5,18.56],[18.02,18.08],[17.49,17.55],[16.91,16.97],
[16.58,16.64],[15.11,15.17],[14.3,14.36],[13.23,13.29],[11.62,11.68],[10.52,10.58],[10.37,10.43],[8.17,8.23],
[6.19,6.25],[6,6.06],[4.61,4.67],[4.27,4.33],[2.59,2.65],[2.3,2.36]
];

// spans of hours whose bright bands show fine horizontal striping
const stripedHourSpans = [[0,2],[2.5,10],[14.5,15.2],[15.7,19],[19.5,21],[22,23.9]];

// ---- layout and axes --------------------------------------------------
const SVG_NS = 'http://www.w3.org/2000/svg';
const panelLeft = [131, 344, 556, 768];
const plotWidth = 177, plotTop = 80, plotBottom = 720;
const freqMin = 320, freqMax = 384, hourMin = 0, hourMax = 24;
const cbLeft = 1019, cbWidth = 15, cbTop = 160, cbBottom = 640, levelMin = -4, levelMax = 1;

function xScale(p, mhz) { return panelLeft[p] + (mhz - freqMin) / (freqMax - freqMin) * plotWidth; }
function yScale(h) { return plotBottom - (h - hourMin) / (hourMax - hourMin) * (plotBottom - plotTop); }
function cbScale(v) { return cbBottom - (v - levelMin) / (levelMax - levelMin) * (cbBottom - cbTop); }

function ramp(t, pts) {
  for (let i = 1; i < pts.length; i++) {
    if (t <= pts[i][0]) {
      const a = pts[i - 1], b = pts[i];
      return a[1] + (b[1] - a[1]) * (t - a[0]) / (b[0] - a[0]);
    }
  }
  return pts[pts.length - 1][1];
}
function jet(v) {
  const t = Math.max(0, Math.min(1, (v - levelMin) / (levelMax - levelMin)));
  const r = ramp(t, [[0,0],[.35,0],[.66,1],[.89,1],[1,.5]]);
  const g = ramp(t, [[0,0],[.125,0],[.375,1],[.64,1],[.91,0],[1,0]]);
  const b = ramp(t, [[0,.5],[.11,1],[.34,1],[.65,0],[1,0]]);
  return 'rgb(' + Math.round(r * 255) + ',' + Math.round(g * 255) + ',' + Math.round(b * 255) + ')';
}
function setAttrs(el, attrs) {
  for (const k in attrs) el.setAttribute(k, attrs[k]);
  return el;
}

// ---- panels -----------------------------------------------------------
const panelsRoot = document.getElementById('panels');
panelNames.forEach(function (name, p) {
  const group = document.createElementNS(SVG_NS, 'g');
  
  
  panelsRoot.appendChild(group);

  // heatmap cells
  panelRows[p].forEach(function (row, r) {
    channelSource.forEach(function (src, c) {
      const x0 = xScale(p, freqEdges[c]), x1 = xScale(p, freqEdges[c + 1]);
      const y0 = yScale(rowHours[r + 1]), y1 = yScale(rowHours[r]);
      const cell = document.createElementNS(SVG_NS, 'rect');
      
      
      setAttrs(cell, {x: x0, y: y0, width: x1 - x0, height: y1 - y0, fill: jet(row[src] + entryOffset[src]), 'shape-rendering': 'crispEdges'});
      group.appendChild(cell);
    });
  });

  // visual-only grain over the quiet parts of the band (carries no values)
  [[freqMin, 358], [380, freqMax]].forEach(function (span) {
    ['noise', 'noise-wide'].forEach(function (patternId) {
      const grain = document.createElementNS(SVG_NS, 'rect');
      
      
      setAttrs(grain, {x: xScale(p, span[0]), y: plotTop, width: xScale(p, span[1]) - xScale(p, span[0]), height: plotBottom - plotTop, fill: 'url(#' + patternId + ')'});
      group.appendChild(grain);
    });
  });

  // visual-only striping across the bright bands
  stripedHourSpans.forEach(function (span) {
    const stripes = document.createElementNS(SVG_NS, 'rect');
    
    
    setAttrs(stripes, {x: xScale(p, 360.3), y: yScale(span[1]), width: xScale(p, 379.8) - xScale(p, 360.3), height: yScale(span[0]) - yScale(span[1]), fill: 'url(#band-stripes)'});
    group.appendChild(stripes);
  });

  // interference features
  sharedRfi.concat(panelRfi[p]).forEach(function (s) {
    const spot = document.createElementNS(SVG_NS, 'rect');
    
    
    setAttrs(spot, {x: xScale(p, s[2]), y: yScale(s[1]), width: xScale(p, s[3]) - xScale(p, s[2]), height: yScale(s[0]) - yScale(s[1]), fill: jet(s[4])});
    group.appendChild(spot);
  });

  // flagged intervals
  whiteFlagHours.forEach(function (f) {
    const band = document.createElementNS(SVG_NS, 'rect');
    
    
    setAttrs(band, {x: panelLeft[p], y: yScale(f[1]), width: plotWidth, height: yScale(f[0]) - yScale(f[1]), fill: '#fff'});
    group.appendChild(band);
  });
  blackFlagHours.forEach(function (f) {
    const band = document.createElementNS(SVG_NS, 'rect');
    
    
    setAttrs(band, {x: panelLeft[p], y: yScale(f[1]), width: plotWidth, height: yScale(f[0]) - yScale(f[1]), fill: '#000'});
    group.appendChild(band);
  });

  // frame
  const frame = document.createElementNS(SVG_NS, 'rect');
  
  
  setAttrs(frame, {x: panelLeft[p], y: plotTop, width: plotWidth, height: plotBottom - plotTop, fill: 'none', stroke: '#000', 'stroke-width': 1});
  group.appendChild(frame);

  // x ticks
  xTickLabels.forEach(function (t) {
    const x = xScale(p, t);
    [[plotBottom, plotBottom - 4], [plotTop, plotTop + 4]].forEach(function (ends) {
      const tick = document.createElementNS(SVG_NS, 'line');
      
      
      setAttrs(tick, {x1: x, x2: x, y1: ends[0], y2: ends[1], stroke: '#000', 'stroke-width': 1});
      group.appendChild(tick);
    });
    const label = document.createElementNS(SVG_NS, 'text');
    
    
    setAttrs(label, {x: x, y: 736, 'text-anchor': 'middle', 'font-size': 12});
    label.textContent = String(t);
    group.appendChild(label);
  });

  // y ticks
  yTickLabels.forEach(function (t) {
    const y = yScale(t);
    [[panelLeft[p], panelLeft[p] + 4], [panelLeft[p] + plotWidth, panelLeft[p] + plotWidth - 4]].forEach(function (ends) {
      const tick = document.createElementNS(SVG_NS, 'line');
      
      
      setAttrs(tick, {x1: ends[0], x2: ends[1], y1: y, y2: y, stroke: '#000', 'stroke-width': 1});
      group.appendChild(tick);
    });
    const label = document.createElementNS(SVG_NS, 'text');
    
    
    setAttrs(label, {x: panelLeft[p] - 4, y: y + 4.5, 'text-anchor': 'end', 'font-size': 12});
    label.textContent = String(t);
    group.appendChild(label);
  });
});

// ---- colorbar ---------------------------------------------------------
const gradient = document.getElementById('jet-gradient');
for (let i = 0; i <= 40; i++) {
  const stop = document.createElementNS(SVG_NS, 'stop');
  setAttrs(stop, {offset: (i / 40), 'stop-color': jet(levelMin + (levelMax - levelMin) * i / 40)});
  gradient.appendChild(stop);
}
const cbRoot = document.getElementById('colorbar');
const cbFill = document.createElementNS(SVG_NS, 'rect');


setAttrs(cbFill, {x: cbLeft, y: cbTop, width: cbWidth, height: cbBottom - cbTop, fill: 'url(#jet-gradient)', stroke: '#000', 'stroke-width': 1});
cbRoot.appendChild(cbFill);
colorbarTicks.forEach(function (t) {
  const y = cbScale(t);
  [[cbLeft, cbLeft + 4], [cbLeft + cbWidth, cbLeft + cbWidth - 4]].forEach(function (ends) {
    const tick = document.createElementNS(SVG_NS, 'line');
    
    
    setAttrs(tick, {x1: ends[0], x2: ends[1], y1: y, y2: y, stroke: '#000', 'stroke-width': 1});
    cbRoot.appendChild(tick);
  });
  const label = document.createElementNS(SVG_NS, 'text');
  
  
  setAttrs(label, {x: cbLeft - 5, y: y + 4, 'text-anchor': 'end', 'font-size': 12});
  label.textContent = String(t).replace('-', '\u2212');
  cbRoot.appendChild(label);
});
[3, 6, 9, 12].forEach(function (dx) {
  [[cbTop, cbTop + 5], [cbBottom, cbBottom - 5]].forEach(function (ends) {
    const tick = document.createElementNS(SVG_NS, 'line');
    
    
    setAttrs(tick, {x1: cbLeft + dx, x2: cbLeft + dx, y1: ends[0], y2: ends[1], stroke: '#000', 'stroke-width': 1});
    cbRoot.appendChild(tick);
  });
});
</script>
</body>
</html>
